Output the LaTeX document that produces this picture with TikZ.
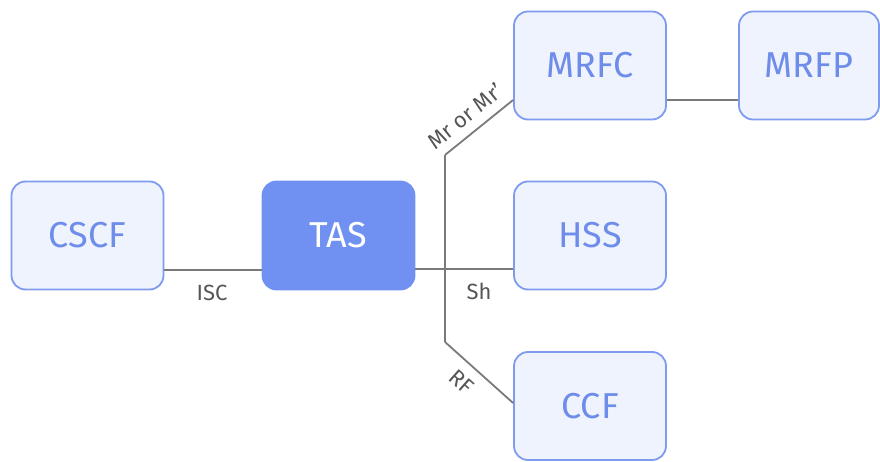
\documentclass[tikz,border=0pt]{standalone}
\usepackage{fontspec}
\setmainfont{Fira Sans}
\definecolor{boxline}{HTML}{7E9BF0}
\definecolor{boxfill}{HTML}{EFF3FD}
\definecolor{boxtext}{HTML}{6E8CEA}
\definecolor{tasfill}{HTML}{7091F2}
\definecolor{linegray}{HTML}{7A7A7A}
\definecolor{labelgray}{HTML}{555555}
\begin{document}
\begin{tikzpicture}[x=1pt,y=-1pt,
  box/.style={draw=boxline, line width=1.8pt, fill=boxfill, rounded corners=14pt,
    minimum width=152pt, minimum height=108pt, text=boxtext, font=\fontsize{36}{40}\selectfont, inner sep=0pt},
  tasbox/.style={box, draw=tasfill, fill=tasfill, text=white},
  conn/.style={draw=linegray, line width=1.8pt},
  lab/.style={text=labelgray, font=\fontsize{22}{25}\selectfont, inner sep=1pt}]
\useasboundingbox (0,0) rectangle (880,462);
\node[box] (cscf) at (87.5,235.5) {CSCF};
\node[tasbox] (tas) at (338.5,235.5) {TAS};
\node[box] (mrfc) at (590,65.5) {MRFC};
\node[box, minimum width=140pt] (mrfp) at (809,65.5) {MRFP};
\node[box] (hss) at (590,235.5) {HSS};
\node[box] (ccf) at (590,406) {CCF};
\coordinate (top) at (445,155);
\coordinate (bot) at (445,342);
\draw[conn] (cscf.east |- 0,270) -- (tas.west |- 0,270);
\draw[conn] (tas.east |- 0,269) -- (hss.west |- 0,269);
\draw[conn] (top) -- (bot);
\draw[conn] (top) -- (mrfc.west |- 0,100);
\draw[conn] (bot) -- (ccf.west |- 0,403);
\draw[conn] (mrfc.east |- 0,100) -- (mrfp.west |- 0,100);
\node[lab] (isc) at (212,293) {ISC};
\node[lab] (sh) at (479,291) {Sh};
\node[lab, rotate=38.6] (mr) at (465,116) {Mr or Mr’};
\node[lab, rotate=-41.5] (rf) at (462,382) {RF};
\end{tikzpicture}
\end{document}
